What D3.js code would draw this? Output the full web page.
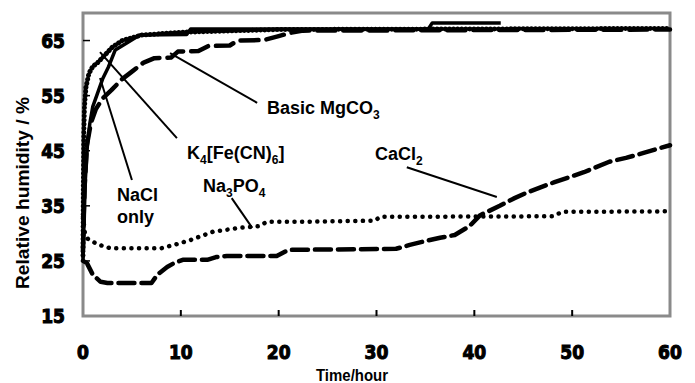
<!DOCTYPE html>
<html>
<head>
<meta charset="utf-8">
<script src="https://cdn.jsdelivr.net/npm/d3@7"></script>
<style>
  body { margin: 0; background: #fff; }
  text { font-family: "Liberation Sans", Arial, sans-serif; font-weight: bold; fill: #000; }
</style>
</head>
<body>
<script>
// x ticks and y ticks
const xTicks = [0, 10, 20, 30, 40, 50, 60];
const yTicks = [15, 25, 35, 45, 55, 65];

// NaCl only (dotted)
const naclT = [0, 0.03, 0.08, 0.15, 0.3, 0.6, 1.0, 1.5, 2.2, 3, 4, 6, 10, 20, 60];
const naclV = [26, 38, 48, 53, 56.5, 59, 60.3, 61, 62.3, 63.8, 65, 66, 66.5, 67, 67.2];

// K4[Fe(CN)6] (solid)
const k4T = [0, 0.1, 0.25, 0.45, 0.7, 1.0, 1.5, 2.0, 2.6, 3.3, 4.6, 5.8, 10.6, 11.0, 35.3, 35.7, 42.7];
const k4V = [25, 32, 40, 46, 50, 53, 55.5, 58, 60.2, 63.3, 64.7, 66, 66.1, 67.1, 67.1, 68.2, 68.2];

// Basic MgCO3 (dashed)
const mgT = [0, 0.15, 0.4, 0.8, 1.3, 2.0, 2.9, 4.0, 5.1, 6.2, 7.3, 9.0, 9.7, 11.8, 12.8, 15, 15.8, 18.5, 20, 21.2, 22.5, 60];
const mgV = [27, 38, 46, 50, 52.5, 54.5, 56, 58, 59.5, 61, 61.8, 61.9, 63, 63.1, 64, 64.1, 65, 65.1, 65.8, 66.4, 66.8, 67];

// Na3PO4 (dotted)
const naT = [0, 0.2, 0.5, 1.5, 2.8, 8, 9.5, 11, 13.3, 16, 18, 18.8, 22, 29.8, 30.4, 48, 49, 60];
const naV = [33, 30, 29, 28, 27.3, 27.3, 28, 28.8, 30.3, 31, 31.3, 32.1, 32.1, 32.3, 33, 33.1, 33.9, 34];

// CaCl2 (dashed)
const caT = [0, 0.4, 1.0, 1.8, 2.5, 7.0, 7.6, 8.6, 9.3, 10.2, 12.7, 13.6, 14.7, 19.8, 21, 32, 33.4, 35, 36.5, 38, 39.5, 40.6, 42.6, 44, 45.5, 48.2, 51.2, 53.8, 55.5, 57.3, 59, 60];
const caV = [25, 24.6, 22.5, 21.2, 21, 21, 22.5, 23.9, 24.6, 25.2, 25.2, 25.7, 25.9, 25.9, 27, 27.2, 27.9, 28.6, 29.2, 29.7, 31.3, 33.3, 35, 36.3, 37.5, 39.3, 41.1, 43, 43.7, 44.6, 45.5, 46];

const width = 695, height = 383;
const mLeft = 83, mRight = 670, mTop = 13, mBottom = 316;

const svg = d3.select('body')
    .append('svg')
    .attr('width', width)
    .attr('height', height);

const x = d3.scaleLinear().domain([0, 60]).range([mLeft, mRight]);
const y = d3.scaleLinear().domain([15, 70]).range([mBottom, mTop]);

// frame
svg.append('rect')
    .attr('x', mLeft).attr('y', mTop)
    .attr('width', mRight - mLeft).attr('height', mBottom - mTop)
    .attr('fill', 'none')
    .attr('stroke', '#8a8a8a')
    .attr('stroke-width', 3);

// inward ticks
svg.append('g').selectAll('line')
    .data(xTicks.slice(1, -1))
    .join('line')
    .attr('x1', d => x(d)).attr('x2', d => x(d))
    .attr('y1', mBottom).attr('y2', mBottom - 6)
    .attr('stroke', '#000').attr('stroke-width', 2);

svg.append('g').selectAll('line')
    .data(yTicks.slice(1))
    .join('line')
    .attr('x1', mLeft).attr('x2', mLeft + 7)
    .attr('y1', d => y(d)).attr('y2', d => y(d))
    .attr('stroke', '#000').attr('stroke-width', 1.5);

// tick labels
svg.append('g').selectAll('text')
    .data(xTicks)
    .join('text')
    .attr('x', d => x(d))
    .attr('y', 359)
    .attr('text-anchor', 'middle')
    .style('font-family', '"DejaVu Sans Condensed", "DejaVu Sans", sans-serif')
    .style('font-size', '19px')
    .attr('stroke', '#000').attr('stroke-width', 1)
    .text(d => d);

svg.append('g').selectAll('text')
    .data(yTicks)
    .join('text')
    .attr('x', 65)
    .attr('y', d => y(d) + 7)
    .attr('text-anchor', 'end')
    .style('font-family', '"DejaVu Sans Condensed", "DejaVu Sans", sans-serif')
    .style('font-size', '19px')
    .attr('stroke', '#000').attr('stroke-width', 1)
    .text(d => d);

// axis titles
svg.append('text')
    .attr('transform', 'translate(29,193) rotate(-90)')
    .attr('text-anchor', 'middle')
    .attr('textLength', 192)
    .attr('lengthAdjust', 'spacingAndGlyphs')
    .style('font-size', '18px')
    .text('Relative humidity / %');

svg.append('text')
    .attr('x', 352).attr('y', 381)
    .attr('text-anchor', 'middle')
    .attr('textLength', 72)
    .attr('lengthAdjust', 'spacingAndGlyphs')
    .style('font-size', '16px')
    .text('Time/hour');

// series
const line = d3.line().x(d => x(d[0])).y(d => y(d[1]));
const zip = (t, v) => t.map((d, i) => [d, v[i]]);

const series = [
    { t: mgT, v: mgV, dash: '18,8', w: 4.5, cap: 'round' },
    { t: caT, v: caV, dash: '16,7', w: 4.5, cap: 'round' },
    { t: naT, v: naV, dash: '0.1,7.5', w: 4.5, cap: 'round' },
    { t: naclT, v: naclV, dash: '0.1,4', w: 5, cap: 'round' },
    { t: k4T, v: k4V, dash: null, w: 3.5, cap: 'butt' }
];

svg.append('g').selectAll('path')
    .data(series)
    .join('path')
    .attr('d', d => line(zip(d.t, d.v)))
    .attr('fill', 'none')
    .attr('stroke', '#000')
    .attr('stroke-width', d => d.w)
    .attr('stroke-linecap', d => d.cap)
    .attr('stroke-linejoin', 'round')
    .attr('stroke-dasharray', d => d.dash);

// leader lines (ends placed in data units)
const leaders = [
    [[8.9, 62.7], [17.8, 53.7]],
    [[1.74, 62.9], [9.6, 47.3]],
    [[1.74, 58.2], [5.0, 39.7]],
    [[15.2, 36.4], [17.3, 31.0]],
    [[33.1, 42.0], [42.3, 36.6]]
];
svg.append('g').selectAll('line')
    .data(leaders)
    .join('line')
    .attr('x1', d => x(d[0][0])).attr('y1', d => y(d[0][1]))
    .attr('x2', d => x(d[1][0])).attr('y2', d => y(d[1][1]))
    .attr('stroke', '#000').attr('stroke-width', 2);

// labels with subscripts
function label(px, py, parts) {
    const t = svg.append('text').attr('x', px).attr('y', py).style('font-size', '18px');
    let shift = 0;
    parts.forEach(p => {
        if (typeof p === 'string') {
            t.append('tspan').attr('dy', -shift).text(p);
            shift = 0;
        } else {
            t.append('tspan').attr('dy', 5 - shift).style('font-size', '12px').text(p.sub);
            shift = 5;
        }
    });
}
label(267, 114, ['Basic MgCO', { sub: '3' }]);
label(187, 159, ['K', { sub: '4' }, '[Fe(CN)', { sub: '6' }, ']']);
label(375, 160, ['CaCl', { sub: '2' }]);
label(203, 192, ['Na', { sub: '3' }, 'PO', { sub: '4' }]);
svg.append('text').attr('x', 117).attr('y', 201).style('font-size', '18px').text('NaCl');
svg.append('text').attr('x', 117).attr('y', 223).style('font-size', '18px').text('only');
</script>
</body>
</html>
